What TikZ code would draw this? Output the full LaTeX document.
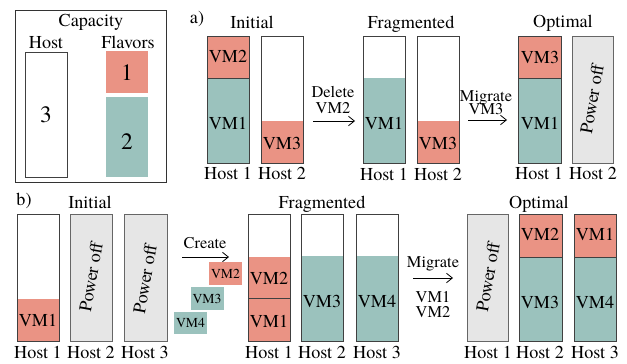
\documentclass[tikz,border=0pt]{standalone}
\usepackage{fontspec}
\setmainfont{texgyretermes-regular.otf}[
  BoldFont=texgyretermes-bold.otf,
  ItalicFont=texgyretermes-italic.otf]
\usetikzlibrary{arrows.meta}

\definecolor{vmred}{HTML}{EA9384}
\definecolor{vmteal}{HTML}{9BC2BD}
\definecolor{offgrey}{HTML}{E6E6E6}

\tikzset{
  hostbox/.style={draw=black!75, line width=0.8pt},
  offbox/.style={draw=black!60, fill=offgrey, line width=0.8pt},
  lbl/.style={font=\fontsize{15.5}{18}\selectfont, inner sep=0, text height=10.2pt, text depth=0pt},
  actlbl/.style={font=\fontsize{14}{16}\selectfont, inner sep=0, text height=9.2pt, text depth=0pt},
  biglbl/.style={font=\fontsize{20}{24}\selectfont, inner sep=0, text height=13.5pt, text depth=0pt},
  newvm/.style={font=\fontsize{11.7}{14}\selectfont, inner sep=0, text height=7.7pt, text depth=0pt,
    minimum width=0.99cm, minimum height=0.68cm},
  poweroff/.style={lbl, rotate=80},
  move/.style={-{Straight Barb[length=5pt,width=8pt]}, line width=0.7pt}
}

\begin{document}
\begin{tikzpicture}[x=0.03cm, y=-0.03cm]
  \useasboundingbox (0,0) rectangle (627,363);

  % Capacity legend
  \draw[line width=0.8pt, draw=black!80] (15,10) rectangle (166,182);
  \node[lbl] (cap) at (91,21) {Capacity};
  \node[lbl] (caphost) at (46,43) {Host};
  \node[lbl] (capflav) at (128,43) {Flavors};
  \draw[hostbox] (25,52) rectangle (67,177);
  \node[biglbl] (cap3) at (46,115) {3};
  \fill[vmred] (106,51) rectangle (148,93);
  \node[biglbl] (cap1) at (127,73) {1};
  \fill[vmteal] (106,97) rectangle (148,177);
  \node[biglbl] (cap2) at (127,142) {2};

  % a) Initial
  \node[lbl] (atag) at (197,18) {a)};
  \node[lbl] (aini) at (252,23) {Initial};
  \fill[vmred] (207,36) rectangle (249,78);
  \fill[vmteal] (207,78) rectangle (249,163);
  \draw[hostbox] (207,78) -- (249,78);
  \draw[hostbox] (207,36) rectangle (249,163);
  \node[lbl] (aini2) at (228,57) {VM2};
  \node[lbl] (aini1) at (228,124) {VM1};
  \fill[vmred] (261,121) rectangle (303,163);
  \draw[hostbox] (261,36) rectangle (303,163);
  \node[lbl] (aini3) at (282,144) {VM3};
  \node[lbl] (ainih1) at (228,174) {Host 1};
  \node[lbl] (ainih2) at (282,174) {Host 2};

  % a) delete
  \coordinate (adelS) at (313,121);
  \coordinate (adelE) at (355,121);
  \draw[move] (adelS) -- (adelE);
  \node[actlbl] (adel) at (333,92) {Delete};
  \node[actlbl] (adelvm) at (333,108) {VM2};

  % a) Fragmented
  \node[lbl] (afrag) at (411,23) {Fragmented};
  \fill[vmteal] (363,78) rectangle (405,163);
  \draw[hostbox] (363,36) rectangle (405,163);
  \node[lbl] (afrag1) at (384,124) {VM1};
  \fill[vmred] (417,121) rectangle (459,163);
  \draw[hostbox] (417,36) rectangle (459,163);
  \node[lbl] (afrag3) at (438,144) {VM3};
  \node[lbl] (afragh1) at (384,175) {Host 1};
  \node[lbl] (afragh2) at (438,175) {Host 2};

  % a) migrate
  \coordinate (amigS) at (468,120);
  \coordinate (amigE) at (507,120);
  \draw[move] (amigS) -- (amigE);
  \node[actlbl] (amig) at (486,96) {Migrate};
  \node[actlbl] (amigvm) at (486,109) {VM3};

  % a) Optimal
  \node[lbl] (aopt) at (563,22) {Optimal};
  \fill[vmred] (518,36) rectangle (561,78);
  \fill[vmteal] (518,78) rectangle (561,163);
  \draw[hostbox] (518,78) -- (561,78);
  \draw[hostbox] (518,36) rectangle (561,163);
  \node[lbl] (aopt3) at (540,58) {VM3};
  \node[lbl] (aopt1) at (540,124) {VM1};
  \draw[offbox] (572,36) rectangle (613,163);
  \node[poweroff] (aoptoff) at (592,99) {Power off};
  \node[lbl] (aopth1) at (539,174) {Host 1};
  \node[lbl] (aopth2) at (593,174) {Host 2};

  % b) Initial
  \node[lbl] (btag) at (24,200) {b)};
  \node[lbl] (bini) at (90,203) {Initial};
  \fill[vmred] (17,299) rectangle (59,341);
  \draw[hostbox] (17,214) rectangle (59,341);
  \node[lbl] (bini1) at (38,321) {VM1};
  \draw[offbox] (70,214) rectangle (112,341);
  \node[poweroff] (binioff2) at (91,277) {Power off};
  \draw[offbox] (124,214) rectangle (167,341);
  \node[poweroff] (binioff3) at (145,279) {Power off};
  \node[lbl] (binih1) at (38,353) {Host 1};
  \node[lbl] (binih2) at (91,353) {Host 2};
  \node[lbl] (binih3) at (145,353) {Host 3};

  % b) create
  \coordinate (bcreS) at (182,257);
  \coordinate (bcreE) at (229,257);
  \draw[move] (bcreS) -- (bcreE);
  \node[actlbl] (bcre) at (205,243) {Create};
  \node[newvm, fill=vmred] (bnew2) at (225.5,273.5) {VM2};
  \node[newvm, fill=vmteal] (bnew3) at (207,298.5) {VM3};
  \node[newvm, fill=vmteal] (bnew4) at (190.5,323) {VM4};

  % b) Fragmented
  \node[lbl] (bfrag) at (322,203) {Fragmented};
  \fill[vmred] (248,257) rectangle (290,341);
  \draw[hostbox] (248,298) -- (290,298);
  \draw[hostbox] (248,214) rectangle (290,341);
  \node[lbl] (bfrag2) at (269,279) {VM2};
  \node[lbl] (bfrag1) at (269,322) {VM1};
  \fill[vmteal] (301,256) rectangle (343,341);
  \draw[hostbox] (301,214) rectangle (343,341);
  \node[lbl] (bfrag3) at (322,302) {VM3};
  \fill[vmteal] (356,256) rectangle (398,341);
  \draw[hostbox] (356,214) rectangle (398,341);
  \node[lbl] (bfrag4) at (377,302) {VM4};
  \node[lbl] (bfragh1) at (269,353) {Host 1};
  \node[lbl] (bfragh2) at (322,353) {Host 2};
  \node[lbl] (bfragh3) at (377,353) {Host 3};

  % b) migrate
  \coordinate (bmigS) at (413,278);
  \coordinate (bmigE) at (453,278);
  \draw[move] (bmigS) -- (bmigE);
  \node[actlbl] (bmig) at (433,262) {Migrate};
  \node[actlbl] (bmigvm1) at (433,297) {VM1};
  \node[actlbl] (bmigvm2) at (433,312) {VM2};

  % b) Optimal
  \node[lbl] (bopt) at (539,203) {Optimal};
  \draw[offbox] (467,214) rectangle (508,341);
  \node[poweroff] (boptoff) at (488,277) {Power off};
  \fill[vmred] (519,214) rectangle (562,257);
  \fill[vmteal] (519,257) rectangle (562,341);
  \draw[hostbox] (519,257) -- (562,257);
  \draw[hostbox] (519,214) rectangle (562,341);
  \node[lbl] (bopt2) at (540,235) {VM2};
  \node[lbl] (bopt3) at (540,303) {VM3};
  \fill[vmred] (574,214) rectangle (616,257);
  \fill[vmteal] (574,257) rectangle (616,341);
  \draw[hostbox] (574,257) -- (616,257);
  \draw[hostbox] (574,214) rectangle (616,341);
  \node[lbl] (bopt1) at (595,235) {VM1};
  \node[lbl] (bopt4) at (595,303) {VM4};
  \node[lbl] (bopth1) at (488,353) {Host 1};
  \node[lbl] (bopth2) at (540,353) {Host 2};
  \node[lbl] (bopth3) at (595,353) {Host 3};
\end{tikzpicture}
\end{document}
